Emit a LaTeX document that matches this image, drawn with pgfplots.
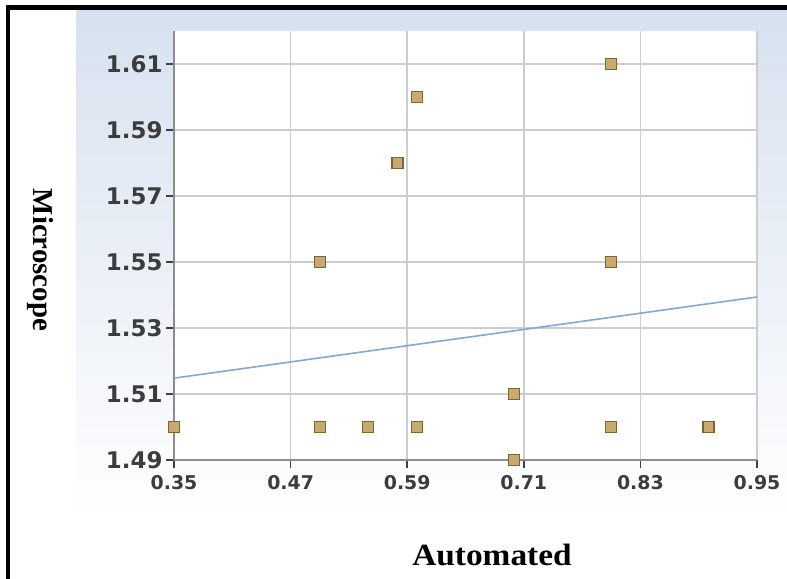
\documentclass[border=0pt]{standalone}
\usepackage{pgfplots}
\pgfplotsset{compat=1.18}
\usepackage{fontspec}
\setmainfont{DejaVu Sans}
\newfontfamily\tickfont{DejaVu Sans}
\newfontfamily\labfont{Liberation Serif}
\definecolor{panelblue}{HTML}{D7E1EF}
\definecolor{gridgray}{HTML}{CDCDCD}
\definecolor{axisgray}{HTML}{8C8C8C}
\definecolor{tickdark}{HTML}{404040}
\definecolor{tickgray}{HTML}{3C3C3C}
\definecolor{trendblue}{HTML}{82A8D8}
\definecolor{markfill}{HTML}{C8A96E}
\definecolor{markdraw}{HTML}{7D6433}
\begin{document}
\begin{tikzpicture}[x=1bp,y=1bp]
\path[use as bounding box] (0,0) rectangle (787,579);
\fill[white] (0,0) rectangle (787,579);
\shade[top color=panelblue, bottom color=white] (76,59) rectangle (787,569);
\fill[black] (6,0) rectangle (10,574);
\fill[black] (6,569) rectangle (787,574);
\begin{axis}[
 at={(174bp,119bp)}, anchor=south west, scale only axis,
 width=583bp, height=429bp,
 xmin=0.35, xmax=0.95, ymin=1.49, ymax=1.62,
 xtick={0.35,0.47,0.59,0.71,0.83,0.95},
 xticklabels={0.35,0.47,0.59,0.71,0.83,0.95},
 ytick={1.49,1.51,1.53,1.55,1.57,1.59,1.61},
 yticklabels={1.49,1.51,1.53,1.55,1.57,1.59,1.61},
 axis x line*=bottom, axis y line*=left,
 axis line style={draw=axisgray, line width=1.5bp, -},
 grid=major, major grid style={draw=gridgray, line width=1.6bp},
 tick align=outside, major tick length=8bp,
 major tick style={draw=tickdark, line width=1.5bp},
 axis background/.style={fill=white},
 xticklabel style={font=\tickfont\bfseries\fontsize{19}{19}\selectfont, text=tickgray, yshift=-4bp},
 yticklabel style={font=\tickfont\bfseries\fontsize{23}{23}\selectfont, text=tickgray},
 clip=false,
]
\addplot[color=trendblue, line width=1.6bp] coordinates {(0.35,1.5148) (0.95,1.5394)};
\addplot[only marks, mark=square*, mark size=5.5bp,
  mark options={fill=markfill, draw=markdraw, line width=1.3bp}] coordinates {
 (0.35,1.50) (0.50,1.50) (0.50,1.55) (0.55,1.50) (0.58,1.58) (0.60,1.60)
 (0.60,1.50) (0.70,1.51) (0.70,1.49) (0.80,1.61) (0.80,1.55) (0.80,1.50)
 (0.90,1.50)};
\end{axis}
\node[font=\labfont\bfseries\fontsize{31}{31}\selectfont, xscale=1.08] at (492,24) {Automated};
\node[rotate=-90, font=\labfont\bfseries\fontsize{29}{29}\selectfont] at (40,319) {Microscope};
\end{tikzpicture}
\end{document}
